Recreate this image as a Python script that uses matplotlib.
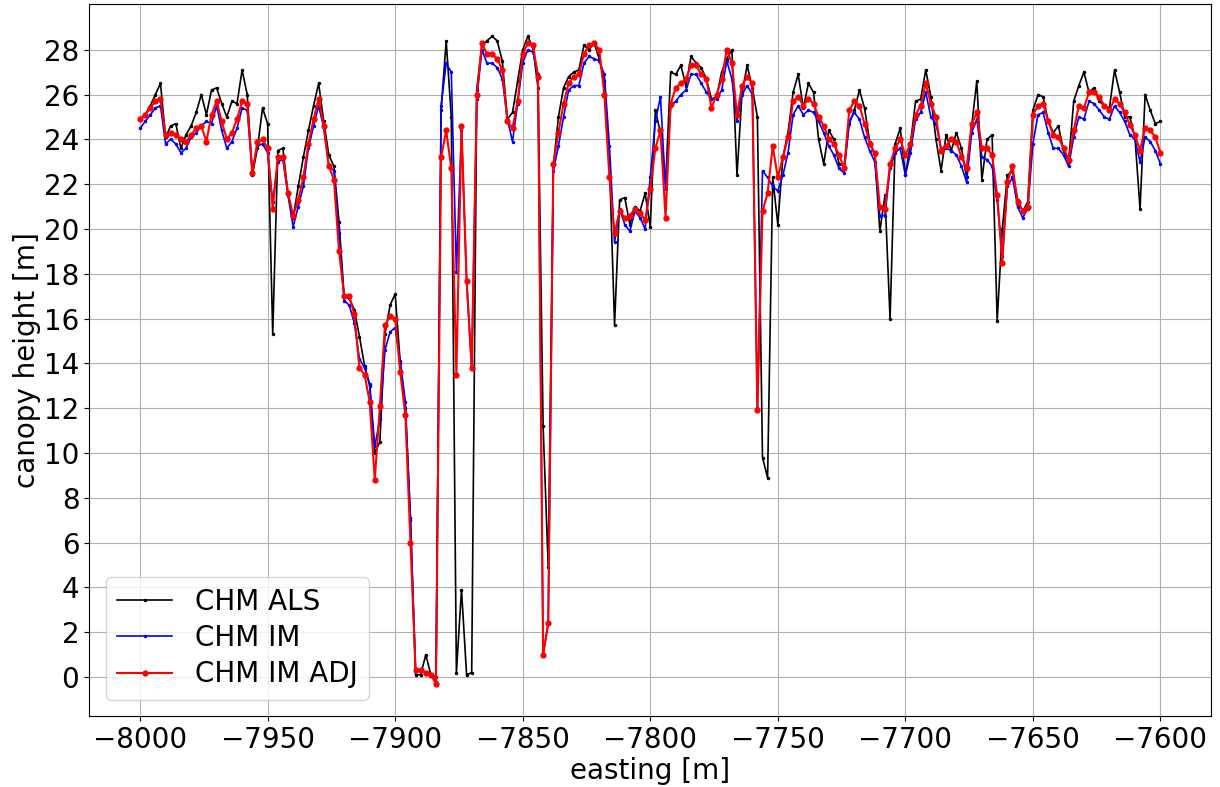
import matplotlib
matplotlib.use('Agg')
import matplotlib.pyplot as plt
import numpy as np

# easting positions, 2 m spacing
easting = np.arange(-8000, -7599, 2)

chm_als = [
    24.9, 25.1, 25.5, 26.0, 26.5, 24.1, 24.6, 24.7, 23.6, 24.2,
    24.6, 25.2, 26.0, 25.1, 26.2, 26.3, 25.6, 25.0, 25.7, 25.6,
    27.1, 26.0, 22.4, 23.6, 25.4, 24.7, 15.3, 23.5, 23.6, 21.5,
    20.5, 21.9, 23.2, 24.4, 25.5, 26.5, 24.8, 23.3, 22.8, 20.3,
    17.0, 16.9, 16.4, 15.2, 13.9, 13.0, 10.0, 10.5, 15.3, 16.6,
    17.1, 14.0, 12.0, 7.1, 0.1, 0.1, 1.0, 0.1, 0.0, 25.3,
    28.4, 25.0, 0.2, 3.9, 0.1, 0.2, 26.2, 28.2, 28.4, 28.6,
    28.4, 27.5, 24.9, 25.2, 26.6, 28.0, 28.6, 28.1, 26.3, 11.2,
    4.9, 22.8, 25.0, 26.3, 26.8, 27.0, 27.1, 28.2, 28.0, 28.3,
    27.6, 26.6, 23.0, 15.7, 21.3, 21.4, 20.2, 21.0, 20.8, 21.6,
    20.1, 25.3, 24.3, 22.0, 27.0, 26.9, 27.3, 26.4, 27.7, 27.4,
    27.2, 26.7, 25.8, 25.9, 27.0, 27.6, 28.0, 22.4, 26.1, 27.3,
    26.3, 25.0, 9.8, 8.9, 22.3, 20.2, 23.2, 24.3, 26.1, 26.9,
    25.4, 26.5, 26.1, 24.0, 22.9, 24.4, 24.0, 22.9, 22.8, 24.7,
    25.3, 26.2, 25.4, 23.9, 23.3, 19.9, 21.5, 16.0, 23.8, 24.5,
    22.4, 23.8, 25.7, 25.8, 27.1, 25.9, 24.0, 22.6, 24.2, 23.5,
    24.3, 23.6, 22.3, 24.6, 26.6, 22.2, 24.0, 24.2, 15.9, 20.0,
    22.4, 22.6, 21.3, 20.8, 21.2, 25.3, 26.0, 25.9, 24.8, 24.3,
    24.6, 23.5, 23.0, 25.7, 26.4, 27.0, 26.1, 26.3, 25.7, 25.5,
    25.4, 27.1, 26.1, 25.0, 25.0, 24.1, 20.9, 26.0, 25.3, 24.7,
    24.8,
]

chm_im = [
    24.5, 24.8, 25.1, 25.4, 25.5, 23.8, 24.0, 23.8, 23.4, 23.6,
    24.1, 24.3, 24.6, 24.8, 24.7, 25.5, 24.4, 23.6, 23.9, 24.5,
    25.4, 25.3, 22.6, 23.7, 23.8, 23.4, 21.2, 23.0, 23.1, 21.5,
    20.1, 21.0, 21.9, 23.6, 24.6, 25.5, 24.5, 22.8, 22.6, 19.8,
    16.8, 16.6, 15.8, 14.2, 13.8, 13.1, 10.3, 11.5, 14.6, 15.4,
    15.6, 14.1, 12.3, 7.0, 0.3, 0.3, 0.2, 0.1, -0.2, 25.5,
    27.4, 27.0, 18.1, 24.4, 17.7, 13.8, 25.8, 28.0, 27.4, 27.4,
    27.2, 26.7, 24.9, 23.9, 25.6, 27.4, 28.0, 27.9, 26.9, 1.0,
    2.4, 22.6, 23.7, 25.0, 26.2, 26.4, 26.4, 27.4, 27.7, 27.6,
    27.5, 26.9, 23.7, 19.4, 20.9, 20.2, 19.9, 20.8, 20.5, 20.0,
    22.3, 24.8, 25.9, 21.8, 25.5, 25.7, 26.0, 26.2, 26.9, 26.9,
    26.5, 26.1, 25.8, 25.8, 26.2, 27.5, 26.7, 24.8, 26.0, 26.4,
    26.0, 12.0, 22.6, 22.3, 21.9, 21.7, 22.4, 23.4, 25.1, 25.5,
    25.1, 25.3, 25.2, 24.8, 24.3, 23.7, 23.3, 22.7, 22.5, 24.8,
    25.2, 24.9, 24.1, 23.5, 23.0, 20.6, 20.6, 22.7, 23.4, 23.6,
    22.4, 23.4, 24.9, 25.2, 26.1, 25.0, 24.7, 23.6, 23.6, 23.5,
    23.3, 22.8, 22.1, 24.3, 24.9, 23.2, 23.1, 22.8, 21.3, 18.8,
    21.9, 22.3, 21.0, 20.5, 20.9, 23.8, 25.1, 25.2, 24.3, 23.6,
    23.6, 23.3, 22.8, 24.1, 25.0, 24.9, 25.7, 25.6, 25.3, 25.0,
    24.9, 25.5, 25.2, 24.8, 24.2, 24.0, 23.0, 24.1, 23.9, 23.5,
    22.9,
]

chm_im_adj = [
    24.9, 25.1, 25.4, 25.7, 25.8, 24.2, 24.3, 24.2, 24.0, 23.9,
    24.2, 24.5, 24.6, 23.9, 25.1, 25.7, 24.8, 24.0, 24.3, 24.9,
    25.7, 25.6, 22.5, 23.9, 24.0, 23.6, 20.9, 23.2, 23.2, 21.6,
    20.6, 21.3, 22.3, 23.8, 24.9, 25.8, 24.6, 22.8, 22.2, 19.0,
    17.0, 17.0, 16.2, 13.8, 13.5, 12.3, 8.8, 12.1, 15.7, 16.1,
    16.0, 13.6, 11.7, 6.0, 0.3, 0.3, 0.2, 0.1, -0.3, 23.2,
    24.4, 22.7, 13.5, 24.6, 17.7, 13.8, 26.0, 28.3, 27.8, 27.8,
    27.6, 27.1, 24.8, 24.5, 25.7, 27.8, 28.3, 28.2, 26.8, 1.0,
    2.4, 22.9, 24.3, 25.6, 26.5, 26.8, 26.9, 27.8, 28.2, 28.3,
    28.0, 26.0, 22.3, 19.8, 20.8, 20.5, 20.6, 20.9, 20.7, 20.4,
    21.8, 23.6, 24.4, 20.5, 25.6, 26.3, 26.5, 26.7, 27.3, 27.3,
    26.9, 26.7, 25.4, 26.0, 26.7, 28.0, 27.4, 25.1, 26.4, 26.8,
    26.5, 11.9, 20.8, 21.6, 23.7, 22.3, 23.2, 24.1, 25.7, 25.9,
    25.5, 25.8, 25.6, 25.0, 24.6, 24.0, 23.8, 23.3, 22.7, 25.3,
    25.7, 25.5, 24.7, 23.8, 23.4, 21.0, 20.9, 22.9, 23.6, 24.0,
    23.3, 23.8, 25.1, 25.5, 26.5, 25.6, 25.0, 23.5, 23.7, 24.0,
    23.9, 23.2, 22.7, 24.7, 25.2, 23.6, 23.6, 23.3, 21.5, 18.5,
    22.1, 22.8, 21.2, 20.8, 21.0, 25.1, 25.5, 25.6, 24.8, 24.2,
    24.1, 23.6, 23.1, 24.4, 25.5, 25.4, 26.1, 26.1, 25.9, 25.5,
    25.3, 25.8, 25.6, 25.2, 24.65, 24.2, 23.5, 24.5, 24.4, 24.1,
    23.4,
]

fig = plt.figure(figsize=(12.2, 7.87), dpi=100)
ax = fig.add_axes([0.073, 0.090, 0.920, 0.905])

ax.plot(easting, chm_als, color='k', marker='.', markersize=3, linewidth=1.2, label='CHM ALS')
ax.plot(easting, chm_im, color='b', marker='.', markersize=3, linewidth=1.2, label='CHM IM')
ax.plot(easting, chm_im_adj, color='r', marker='o', markersize=3.5, linewidth=1.5, label='CHM IM ADJ')

ax.set_xticks(np.arange(-8000, -7599, 50))
ax.set_yticks(np.arange(0, 29, 2))
ax.tick_params(labelsize=20)
ax.grid(True, color='#b0b0b0', linewidth=0.8)
ax.set_xlabel('easting [m]', fontsize=20, labelpad=2)
ax.set_ylabel('canopy height [m]', fontsize=20, labelpad=2)
ax.legend(loc='lower left', fontsize=20, labelspacing=0.3, borderaxespad=0.6)

fig.savefig('out.png', dpi=100)
